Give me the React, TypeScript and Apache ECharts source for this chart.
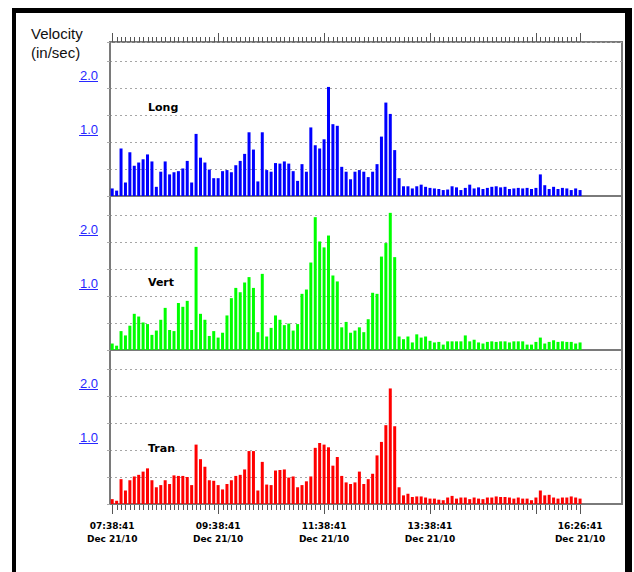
import React, { useEffect, useRef } from 'react';
import * as echarts from 'echarts';

// ---- data (in/sec), one bar per sample, 07:38:41 .. 16:26:41 Dec 21/10 ----
const longVals = [
  0.14, 0.10, 0.88, 0.25, 0.81, 0.56, 0.62, 0.68, 0.77, 0.64,
  0.17, 0.45, 0.64, 0.40, 0.44, 0.46, 0.51, 0.65, 0.25, 1.15,
  0.71, 0.62, 0.49, 0.33, 0.33, 0.46, 0.48, 0.44, 0.57, 0.65,
  0.78, 1.18, 0.86, 0.27, 1.18, 0.48, 0.45, 0.61, 0.60, 0.64,
  0.60, 0.46, 0.28, 0.59, 0.45, 1.27, 0.94, 0.88, 1.05, 2.02,
  1.33, 1.30, 0.54, 0.45, 0.31, 0.45, 0.48, 0.45, 0.35, 0.45,
  0.59, 1.10, 1.73, 1.52, 0.85, 0.33, 0.18, 0.18, 0.14, 0.18,
  0.21, 0.17, 0.15, 0.14, 0.13, 0.11, 0.12, 0.18, 0.16, 0.11,
  0.15, 0.21, 0.14, 0.16, 0.13, 0.15, 0.17, 0.18, 0.16, 0.17,
  0.13, 0.14, 0.15, 0.14, 0.15, 0.13, 0.15, 0.40, 0.20, 0.13,
  0.17, 0.13, 0.15, 0.14, 0.11, 0.14, 0.11,
];
const vertVals = [
  0.12, 0.08, 0.35, 0.27, 0.45, 0.67, 0.62, 0.51, 0.48, 0.28,
  0.36, 0.56, 0.78, 0.37, 0.35, 0.87, 0.80, 0.91, 0.37, 1.91,
  0.67, 0.56, 0.26, 0.35, 0.23, 0.32, 0.64, 0.96, 1.15, 1.07,
  1.25, 1.35, 1.15, 0.33, 1.41, 0.25, 0.41, 0.64, 0.56, 0.46,
  0.49, 0.36, 0.48, 1.04, 1.12, 1.62, 2.46, 2.01, 1.90, 2.12,
  1.38, 1.27, 0.42, 0.52, 0.32, 0.36, 0.42, 0.33, 0.57, 1.06,
  1.04, 1.73, 1.98, 2.54, 1.72, 0.25, 0.20, 0.25, 0.14, 0.29,
  0.23, 0.25, 0.17, 0.14, 0.15, 0.10, 0.16, 0.16, 0.16, 0.16,
  0.27, 0.16, 0.19, 0.14, 0.12, 0.15, 0.16, 0.15, 0.16, 0.16,
  0.14, 0.16, 0.16, 0.16, 0.10, 0.10, 0.15, 0.23, 0.12, 0.15,
  0.18, 0.15, 0.16, 0.15, 0.15, 0.12, 0.14,
];
const tranVals = [
  0.09, 0.06, 0.46, 0.25, 0.44, 0.51, 0.54, 0.60, 0.66, 0.44,
  0.31, 0.35, 0.44, 0.37, 0.53, 0.52, 0.52, 0.50, 0.35, 1.10,
  0.83, 0.69, 0.44, 0.43, 0.35, 0.27, 0.37, 0.44, 0.52, 0.54,
  0.64, 0.98, 0.98, 0.25, 0.78, 0.36, 0.35, 0.62, 0.63, 0.64,
  0.49, 0.51, 0.31, 0.35, 0.42, 0.51, 1.04, 1.13, 1.10, 1.05,
  0.71, 0.87, 0.52, 0.40, 0.37, 0.40, 0.60, 0.37, 0.46, 0.56,
  0.90, 1.15, 1.46, 2.14, 1.44, 0.31, 0.16, 0.19, 0.13, 0.14,
  0.14, 0.12, 0.10, 0.10, 0.08, 0.07, 0.12, 0.15, 0.10, 0.12,
  0.12, 0.09, 0.12, 0.10, 0.09, 0.12, 0.12, 0.14, 0.13, 0.13,
  0.12, 0.10, 0.12, 0.10, 0.10, 0.07, 0.12, 0.25, 0.16, 0.17,
  0.12, 0.10, 0.12, 0.12, 0.14, 0.12, 0.10,
];

const panelNames = ['Long', 'Vert', 'Tran'];
const panelColors = ['#0000ff', '#00ff00', '#ff0000'];
const labelTickIndex = [0, 24, 48, 72, 106];
const labelTickTimes = ['07:38:41', '09:38:41', '11:38:41', '13:38:41', '16:26:41'];
const majorTickIndex = [0, 24, 48, 72, 96, 106];
const dateText = 'Dec 21/10';
const yLabelValues = [1, 2];
const yAxisTitle = ['Velocity', '(in/sec)'];

// ---- layout ----
const W = 634;
const H = 572;
const GRID_LEFT = 110;
const GRID_WIDTH = 512;
const GRID_TOPS = [42, 196, 350];
const GRID_H = 154;
const Y_MAX = 2.852;
const SLOTS = 116;
const GREY = '#7a7a7a';
const TICK = '#555';
const LINK_BLUE = '#2828ff';
const MINOR_LEN = 5;
const MAJOR_LEN = 9;

const slotData = Array.from({ length: SLOTS }, (_, i) => String(i));
const nBars = longVals.length;
const tickLen = (i: number) => (majorTickIndex.includes(i) ? MAJOR_LEN : MINOR_LEN);

function tickSeries(gridIndex: number, edgeValue: number, dir: number) {
  const data = Array.from({ length: nBars }, (_, i) => [i, edgeValue, tickLen(i)]);
  return {
    type: 'custom',
    xAxisIndex: gridIndex,
    yAxisIndex: gridIndex,
    silent: true,
    clip: false,
    z: 5,
    encode: { x: 0, y: 1 },
    data,
    renderItem: (_params: any, api: any) => {
      const p = api.coord([api.value(0), api.value(1)]);
      const x = Math.round(p[0]) + 0.5;
      const len = api.value(2);
      return {
        type: 'line',
        shape: { x1: x, y1: p[1], x2: x, y2: p[1] + dir * len },
        style: { stroke: TICK, lineWidth: 1 },
      };
    },
  };
}

function buildOption() {
  const allVals = [longVals, vertVals, tranVals];
  const grids: any[] = GRID_TOPS.map((top) => ({
    left: GRID_LEFT,
    top,
    width: GRID_WIDTH,
    height: GRID_H,
    show: true,
    borderColor: GREY,
    borderWidth: 2,
    backgroundColor: 'transparent',
  }));

  const xAxes: any[] = GRID_TOPS.map((_, gi) => ({
    type: 'category',
    gridIndex: gi,
    position: gi === 0 ? 'top' : 'bottom',
    data: slotData,
    boundaryGap: true,
    axisLine: { show: true, lineStyle: { color: GREY, width: 2 } },
    axisTick: { show: false },
    splitLine: { show: false },
    axisLabel:
      gi === 2
        ? {
            show: true,
            interval: (i: number) => labelTickIndex.includes(i),
            formatter: (_v: string, i: number) => {
              const k = labelTickIndex.indexOf(i);
              return k >= 0 ? labelTickTimes[k] + '\n' + dateText : '';
            },
            margin: 15,
            fontFamily: 'DejaVu Sans',
            fontWeight: 'bold',
            fontSize: 9,
            lineHeight: 13,
            color: '#000',
          }
        : { show: false },
  }));

  const yAxes: any[] = GRID_TOPS.map((_, gi) => ({
    type: 'value',
    gridIndex: gi,
    min: 0,
    max: Y_MAX,
    interval: 0.5,
    axisLine: { show: true, lineStyle: { color: GREY, width: 2 } },
    axisTick: { show: true, length: 3, lineStyle: { color: '#aaa' } },
    splitLine: { show: true, lineStyle: { color: '#a6a6a6', type: [2, 3], width: 1 } },
    axisLabel: {
      show: true,
      formatter: (v: number) => (yLabelValues.some((y) => Math.abs(y - v) < 1e-6) ? v.toFixed(1) : ''),
      color: LINK_BLUE,
      fontFamily: 'Liberation Sans',
      fontSize: 13,
      margin: 12,
      verticalAlign: 'bottom',
      padding: [0, 0, 6, 0],
    },
  }));

  const series: any[] = allVals.map((vals, gi) => ({
    type: 'bar',
    name: panelNames[gi],
    xAxisIndex: gi,
    yAxisIndex: gi,
    data: vals,
    barWidth: 3,
    itemStyle: { color: panelColors[gi] },
    emphasis: { disabled: true },
  }));
  series.push(tickSeries(0, Y_MAX, -1));

  return {
    animation: false,
    backgroundColor: '#fff',
    grid: grids,
    xAxis: xAxes,
    yAxis: yAxes,
    series,
  };
}

function staticGraphics(): any[] {
  const g: any[] = [];
  // black outer frame
  g.push({ type: 'rect', shape: { x: 12, y: 8, width: 4, height: H - 8 }, style: { fill: '#000' }, silent: true });
  g.push({ type: 'rect', shape: { x: 12, y: 8, width: 620, height: 5 }, style: { fill: '#000' }, silent: true });
  g.push({ type: 'rect', shape: { x: 625, y: 8, width: 7, height: H - 8 }, style: { fill: '#000' }, silent: true });
  // axis title
  yAxisTitle.forEach((t, i) => {
    g.push({
      type: 'text',
      x: 31,
      y: 33 + i * 19,
      style: { text: t, font: '15px "Liberation Sans", Arial, sans-serif', fill: '#111', verticalAlign: 'middle' },
      silent: true,
    });
  });
  // panel names
  const nameY = [107, 282, 448];
  panelNames.forEach((n, i) => {
    g.push({
      type: 'text',
      x: 148,
      y: nameY[i],
      style: { text: n, font: 'bold 11px "DejaVu Sans", sans-serif', fill: '#000', verticalAlign: 'middle' },
      silent: true,
    });
  });
  return g;
}

export default function App() {
  const ref = useRef<HTMLDivElement>(null);
  useEffect(() => {
    if (!ref.current) return;
    const chart = echarts.init(ref.current, null, { renderer: 'svg' });
    chart.setOption(buildOption());
    const g = staticGraphics();
    // underline the y labels (they look like hyperlinks)
    GRID_TOPS.forEach((_, gi) => {
      yLabelValues.forEach((v) => {
        const py = chart.convertToPixel({ yAxisIndex: gi }, v) as number;
        g.push({
          type: 'line',
          shape: { x1: 79, y1: py - 6.5, x2: 98, y2: py - 6.5 },
          style: { stroke: LINK_BLUE, lineWidth: 1 },
          silent: true,
        });
      });
    });
    // bottom time-axis ticks, positioned through the bottom panel's scales
    for (let i = 0; i < nBars; i++) {
      const p = chart.convertToPixel({ xAxisIndex: 2, yAxisIndex: 2 }, [i, 0]) as number[];
      const x = Math.round(p[0]) + 0.5;
      g.push({
        type: 'line',
        shape: { x1: x, y1: p[1] + 1, x2: x, y2: p[1] + 1 + tickLen(i) },
        style: { stroke: TICK, lineWidth: 1 },
        silent: true,
        z: 10,
      });
    }
    chart.setOption({ graphic: g });
    return () => chart.dispose();
  }, []);
  return (
    <div
      ref={ref}
      style={{ position: 'fixed', left: 0, top: 0, width: W, height: H, background: '#fff' }}
    />
  );
}
